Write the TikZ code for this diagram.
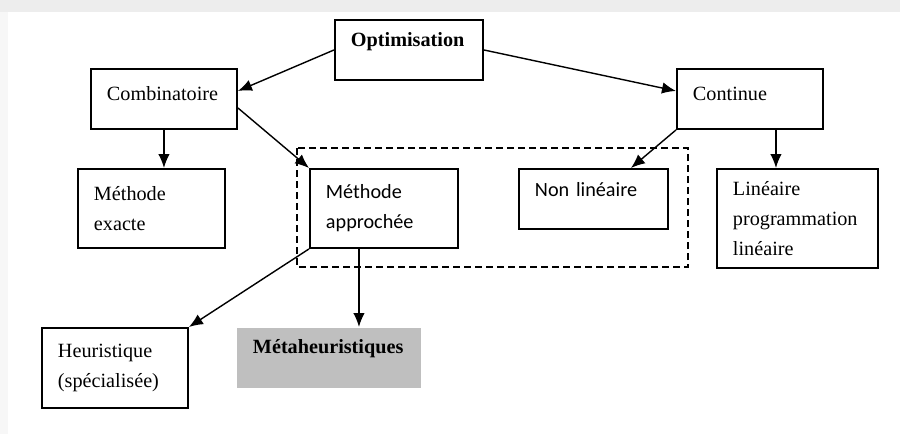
\documentclass[tikz,border=0pt]{standalone}
\usepackage{fontspec}
\setmainfont{Liberation Serif}
\newfontfamily\calibri{Carlito}
\usetikzlibrary{arrows.meta}
\begin{document}
\begin{tikzpicture}[%
>={Latex[length=2.8mm,width=2.3mm]},
% common options for the boxes:
box/.style = {draw, line width=1.1pt, anchor=north west, align=left,
            inner xsep=0.32cm, inner ysep=0, font=\fontsize{11.5}{17}\selectfont},
% common options for the arrows:
link/.style = {->, line width=0.8pt}]
% background and margins
\fill[black!7] (0,0) rectangle (18,-0.24);
\fill[black!3] (0,-0.24) rectangle (0.16,-8.68);
\fill[white] (0.16,-0.24) rectangle (18,-8.68);
\useasboundingbox (0,0) rectangle (18,-8.68);
% group of the approximate methods
\draw[line width=0.6pt, dash pattern=on 0.14cm off 0.08cm] (5.94,-2.96) rectangle (13.76,-5.34);
\node[box, text width=2.32cm, minimum width=2.96cm, minimum height=1.2cm, text depth=0.4cm] (opt) at (6.68,-0.38) {\textbf{Optimisation}};
\node[box, text width=2.28cm, minimum width=2.92cm, minimum height=1.2cm, text depth=0.22cm] (comb) at (1.80,-1.36) {Combinatoire};
\node[box, text width=2.28cm, minimum width=2.92cm, minimum height=1.2cm, text depth=0.22cm] (cont) at (13.52,-1.36) {Continue};
\node[box, text width=2.30cm, minimum width=2.94cm, minimum height=1.58cm] (exacte) at (1.54,-3.36) {Méthode\\exacte};
\node[box, text width=2.32cm, minimum width=2.96cm, minimum height=1.58cm] (approchee) at (6.18,-3.36) {\calibri Méthode\\\calibri approchée};
\node[box, text width=2.34cm, minimum width=2.98cm, minimum height=1.2cm, text depth=0.38cm] (nonlin) at (10.36,-3.36) {\calibri Non linéaire};
\node[box, text width=2.58cm, minimum width=3.22cm, minimum height=1.98cm] (lineaire) at (14.32,-3.36) {Linéaire\\programmation\\linéaire};
\node[box, text width=2.28cm, minimum width=2.92cm, minimum height=1.6cm] (heur) at (0.82,-6.54) {Heuristique\\(spécialisée)};
\node[box, draw=none, fill=black!25, text width=3.04cm, minimum width=3.68cm, minimum height=1.2cm, text depth=0.45cm] (meta) at (4.72,-6.54) {\textbf{Métaheuristiques}};
\draw[link] (opt.west) to ([yshift=0.16cm]comb.east);
\draw[link] (opt.east) to ([yshift=0.16cm]cont.west);
\draw[link] (comb.south) to (comb.south |- exacte.north);
\draw[link] ([yshift=-0.18cm]comb.east) to (approchee.north west);
\draw[link] (cont.south west) to ([xshift=0.75cm]nonlin.north);
\draw[link] ([xshift=0.52cm]cont.south) to ([xshift=0.52cm]cont.south |- lineaire.north);
\draw[link] (approchee.south west) to (heur.north east);
\draw[link] ([xshift=-0.5cm]approchee.south) to ([xshift=-0.5cm]approchee.south |- meta.north);
\end{tikzpicture}
\end{document}
